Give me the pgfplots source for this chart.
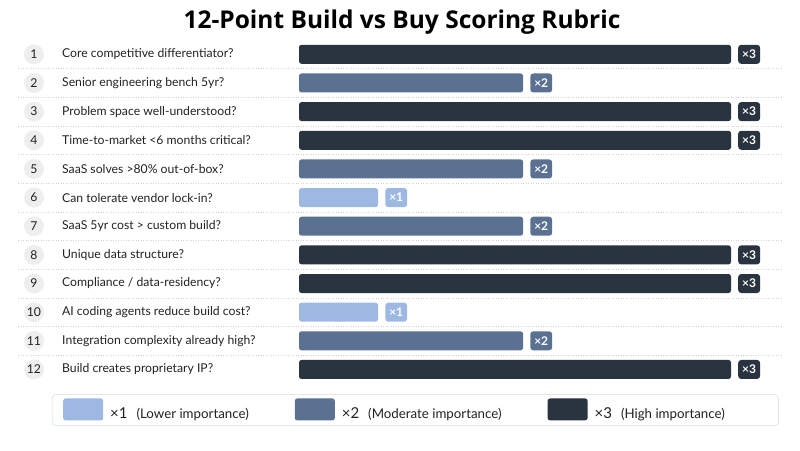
\documentclass[border=0pt]{standalone}
\usepackage{pgfplots}
\pgfplotsset{compat=1.18}
\usepackage{fontspec}
\setmainfont{Lato}
\newfontfamily\titlefont{Open Sans}
\definecolor{cLight}{HTML}{9DB9E2}
\definecolor{cMid}{HTML}{5A7192}
\definecolor{cDark}{HTML}{2A3441}
\definecolor{cText}{HTML}{222222}
\begin{document}
\begin{tikzpicture}
\path[use as bounding box] (0,0) rectangle (800pt,450pt);
\node[font=\titlefont\fontsize{24.5}{28}\selectfont\bfseries, text=black] at (402pt,428pt) {12-Point Build vs Buy Scoring Rubric};
\foreach \i in {1,...,11} {
  \draw[gray!35, line width=0.6pt, dash pattern=on 1pt off 1.5pt] (18pt,{395.7pt-(\i-0.5)*28.65pt}) -- (782pt,{395.7pt-(\i-0.5)*28.65pt});
}
\begin{axis}[
  at={(299pt,66.2pt)}, anchor=south west, scale only axis,
  width=432pt, height=343.8pt,
  xmin=0, xmax=3, ymin=0.5, ymax=12.5, y dir=reverse,
  xbar, bar width=19pt, bar shift=0pt,
  axis line style={draw=none}, xtick=\empty, major tick length=0pt,
  ytick={1,...,12},
  yticklabels={Core competitive differentiator?, Senior engineering bench 5yr?, Problem space well-understood?, Time-to-market <6 months critical?, SaaS solves >80\% out-of-box?, Can tolerate vendor lock-in?, SaaS 5yr cost > custom build?, Unique data structure?, Compliance / data-residency?, AI coding agents reduce build cost?, Integration complexity already high?, Build creates proprietary IP?},
  yticklabel style={anchor=west, xshift=-237pt, inner xsep=0pt, font=\fontsize{12.2}{14}\selectfont, text=cText},
  extra y ticks={1,...,12},
  extra y tick labels={1,...,12},
  extra y tick style={yticklabel style={anchor=center, xshift=-28pt, circle, fill=gray!13, minimum size=20pt, inner sep=0pt}},
  clip=false,
  every node near coord/.append style={anchor=west, xshift=7pt, text=white, font=\bfseries\fontsize{12}{13}\selectfont, rounded corners=3pt, minimum height=19pt, inner xsep=4pt},
  legend style={at={(-0.5718,-0.0762)}, anchor=west, draw=gray!30, rounded corners=4pt, legend columns=3, font=\fontsize{13.3}{15}\selectfont, text=cText, inner xsep=11pt, inner ysep=4pt, /tikz/every even column/.append style={column sep=44pt}},
  legend cell align=left,
  legend image code/.code={\fill[#1] (0pt,-7pt) rectangle (40pt,15pt);},
]
\addplot[fill=cLight, draw=none, rounded corners=2.5pt, nodes near coords={×1}, every node near coord/.append style={fill=cLight}] coordinates {(0.549,6) (0.549,10)};
\addlegendentry{\hspace{5pt}{\fontsize{15}{15}\selectfont ×1}\hspace{9pt}(Lower importance)}
\addplot[fill=cMid, draw=none, rounded corners=2.5pt, nodes near coords={×2}, every node near coord/.append style={fill=cMid}] coordinates {(1.556,2) (1.556,5) (1.556,7) (1.556,11)};
\addlegendentry{\hspace{5pt}{\fontsize{15}{15}\selectfont ×2}\hspace{9pt}(Moderate importance)}
\addplot[fill=cDark, draw=none, rounded corners=2.5pt, nodes near coords={×3}, every node near coord/.append style={fill=cDark}] coordinates {(3,1) (3,3) (3,4) (3,8) (3,9) (3,12)};
\addlegendentry{\makebox[176pt][l]{\hspace{5pt}{\fontsize{15}{15}\selectfont ×3}\hspace{9pt}(High importance)}}
\end{axis}
\end{tikzpicture}
\end{document}
